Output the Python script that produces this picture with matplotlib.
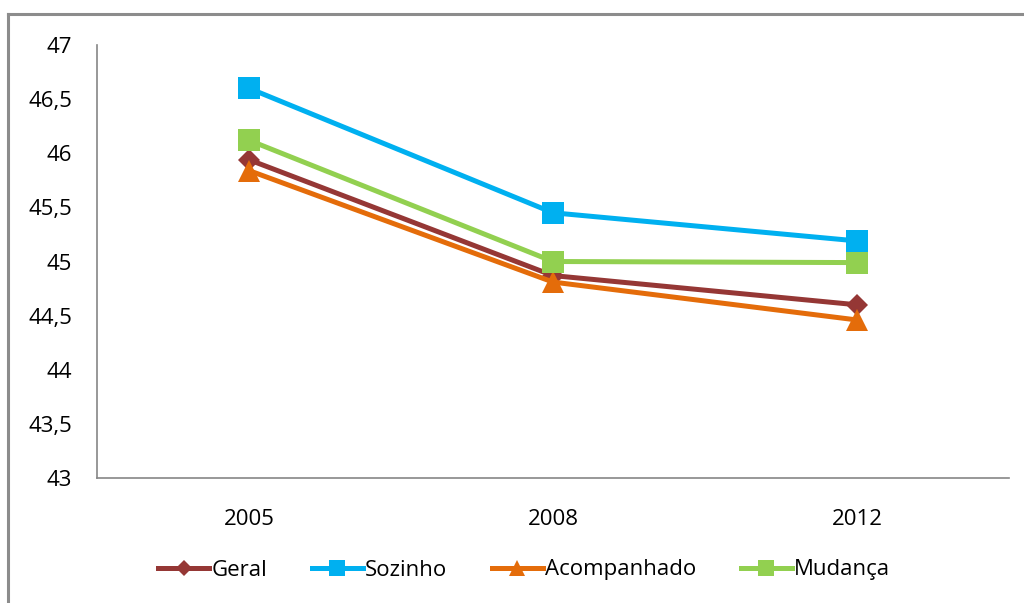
import matplotlib
matplotlib.use("Agg")
import matplotlib.pyplot as plt
from matplotlib.lines import Line2D

# data
years = ["2005", "2008", "2012"]
geral = [45.94, 44.87, 44.60]
sozinho = [46.60, 45.45, 45.19]
acompanhado = [45.84, 44.81, 44.46]
mudanca = [46.12, 45.00, 44.99]

names = ["Geral", "Sozinho", "Acompanhado", "Mudança"]
colors = ["#953735", "#00B0F0", "#E46C0A", "#92D050"]
markers = ["D", "s", "^", "s"]
msizes = [11, 16, 16, 16]
series = [geral, sozinho, acompanhado, mudanca]

yticks = [43, 43.5, 44, 44.5, 45, 45.5, 46, 46.5, 47]
ytick_labels = ["43", "43,5", "44", "44,5", "45", "45,5", "46", "46,5", "47"]

plt.rcParams["font.family"] = ["Open Sans", "DejaVu Sans"]

W, H = 1024, 603
fig = plt.figure(figsize=(W / 100, H / 100), dpi=100)
ax = fig.add_axes([97 / W, 1 - 478 / H, (1009 - 97) / W, (478 - 45) / H])

x = range(len(years))
for vals, name, c, m, ms in zip(series, names, colors, markers, msizes):
    ax.plot(x, vals, color=c, lw=3.6, marker=m, markersize=ms,
            markeredgewidth=0, label=name)

ax.set_xlim(-0.5, 2.5)
ax.set_ylim(43, 47)
ax.set_xticks(list(x))
ax.set_xticklabels(years)
ax.set_yticks(yticks)
ax.set_yticklabels(ytick_labels)
ax.tick_params(length=0, labelsize=16, pad=18)
ax.tick_params(axis="x", pad=22)
for s in ["top", "right"]:
    ax.spines[s].set_visible(False)
for s in ["left", "bottom"]:
    ax.spines[s].set_color("#868686")
    ax.spines[s].set_linewidth(1.2)

leg = fig.legend(loc="center", bbox_to_anchor=(524 / W, 1 - 570 / H), ncol=4,
                 frameon=False, fontsize=16, handlelength=2.3,
                 handletextpad=0.1, columnspacing=2.0, markerscale=0.75)

# chart border (only left and top visible in the crop)
fig.add_artist(Line2D([8 / W, 8 / W], [0, 1 - 14 / H], color="#8c8c8c", lw=2.2))
fig.add_artist(Line2D([8 / W, 1], [1 - 14 / H, 1 - 14 / H], color="#8c8c8c", lw=2.2))

fig.savefig("out.png", dpi=100)
